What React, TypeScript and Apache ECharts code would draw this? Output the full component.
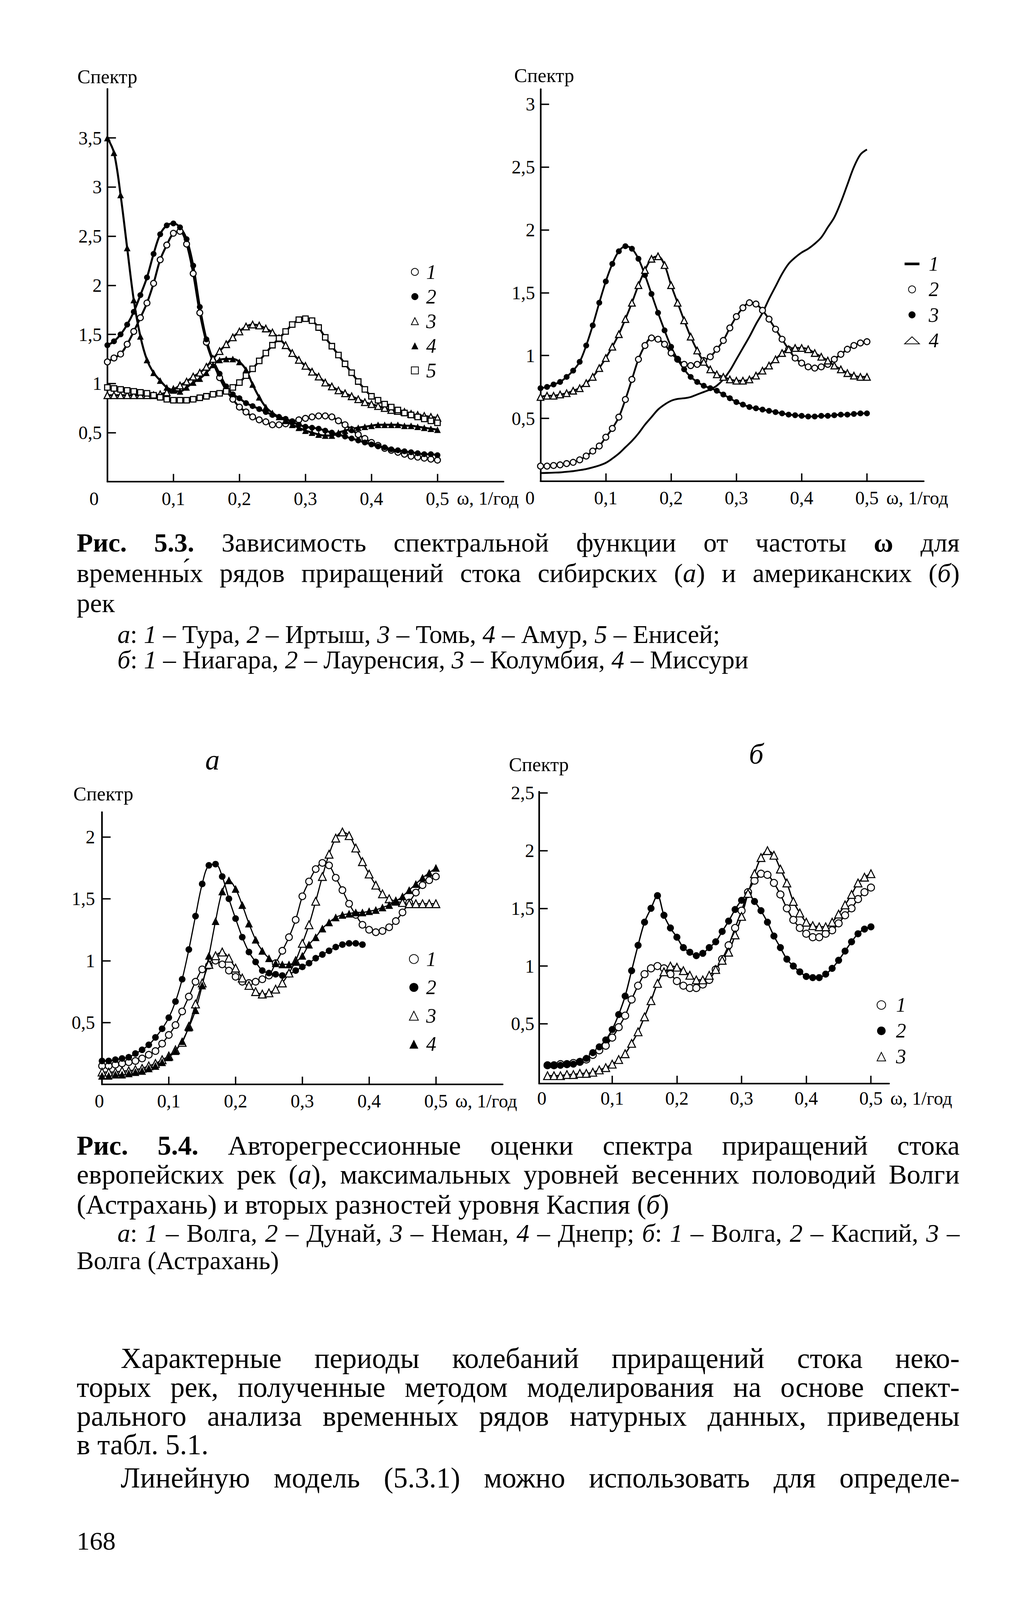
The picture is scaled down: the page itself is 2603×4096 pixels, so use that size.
import React, { useEffect, useRef } from 'react';
import * as echarts from 'echarts';

const W = 2603;
const H = 4096;
const S = W / 3050;
const px = (v: number) => v * S;
const FONT = '"Liberation Serif", "DejaVu Serif", serif';

// ---------- data ----------
const OMEGA = [0, 0.01, 0.02, 0.03, 0.04, 0.05, 0.06, 0.07, 0.08, 0.09, 0.1, 0.11, 0.12, 0.13, 0.14, 0.15, 0.16, 0.17, 0.18, 0.19, 0.2, 0.21, 0.22, 0.23, 0.24, 0.25, 0.26, 0.27, 0.28, 0.29, 0.3, 0.31, 0.32, 0.33, 0.34, 0.35, 0.36, 0.37, 0.38, 0.39, 0.4, 0.41, 0.42, 0.43, 0.44, 0.45, 0.46, 0.47, 0.48, 0.49, 0.5];

const X_LABELS = [0, 0.1, 0.2, 0.3, 0.4, 0.5];
const X_TICKS = [0.1, 0.2, 0.3, 0.4, 0.5];
const Y_TICKS_A = [0.5, 1, 1.5, 2, 2.5, 3, 3.5];
const Y_TICKS_B = [0.5, 1, 1.5, 2, 2.5, 3];
const Y_TICKS_C = [0.5, 1, 1.5, 2];
const Y_TICKS_D = [0.5, 1, 1.5, 2, 2.5];

// Fig 5.3 a (Siberian rivers)
const TURA = [1.22, 1.26, 1.3, 1.4, 1.53, 1.67, 1.82, 2.02, 2.26, 2.41, 2.53, 2.55, 2.42, 2.12, 1.72, 1.42, 1.22, 1.06, 0.93, 0.84, 0.76, 0.71, 0.66, 0.63, 0.61, 0.58, 0.58, 0.59, 0.61, 0.63, 0.645, 0.66, 0.67, 0.67, 0.66, 0.62, 0.58, 0.53, 0.48, 0.44, 0.4, 0.37, 0.34, 0.32, 0.3, 0.28, 0.26, 0.25, 0.24, 0.23, 0.22];
const IRTYSH = [1.39, 1.43, 1.5, 1.6, 1.73, 1.9, 2.08, 2.32, 2.52, 2.61, 2.63, 2.59, 2.47, 2.2, 1.78, 1.45, 1.24, 1.1, 0.97, 0.89, 0.85, 0.8, 0.77, 0.74, 0.71, 0.68, 0.66, 0.64, 0.61, 0.58, 0.56, 0.55, 0.54, 0.52, 0.5, 0.48, 0.46, 0.44, 0.42, 0.4, 0.38, 0.36, 0.35, 0.33, 0.32, 0.31, 0.3, 0.29, 0.28, 0.28, 0.27];
const TOM = [0.88, 0.88, 0.88, 0.88, 0.88, 0.88, 0.88, 0.88, 0.89, 0.91, 0.94, 0.98, 1.02, 1.07, 1.11, 1.17, 1.25, 1.33, 1.4, 1.47, 1.53, 1.58, 1.6, 1.59, 1.56, 1.52, 1.46, 1.39, 1.31, 1.24, 1.18, 1.12, 1.07, 1.01, 0.97, 0.93, 0.9, 0.87, 0.84, 0.81, 0.79, 0.77, 0.75, 0.73, 0.72, 0.71, 0.69, 0.68, 0.67, 0.66, 0.65];
const AMUR = [3.5, 3.35, 2.92, 2.38, 1.85, 1.48, 1.24, 1.11, 1.03, 0.96, 0.93, 0.92, 0.96, 1.01, 1.05, 1.11, 1.19, 1.24, 1.25, 1.25, 1.22, 1.14, 0.99, 0.86, 0.76, 0.7, 0.66, 0.62, 0.58, 0.55, 0.52, 0.5, 0.48, 0.47, 0.47, 0.5, 0.52, 0.54, 0.55, 0.56, 0.57, 0.58, 0.58, 0.58, 0.58, 0.57, 0.57, 0.56, 0.55, 0.54, 0.53];
const ENISEI = [0.96, 0.95, 0.94, 0.93, 0.92, 0.91, 0.9, 0.88, 0.86, 0.84, 0.83, 0.83, 0.83, 0.84, 0.855, 0.87, 0.89, 0.9, 0.92, 0.96, 1.01, 1.08, 1.15, 1.23, 1.31, 1.39, 1.46, 1.53, 1.6, 1.65, 1.66, 1.64, 1.57, 1.47, 1.38, 1.29, 1.2, 1.11, 1.02, 0.94, 0.87, 0.83, 0.79, 0.76, 0.73, 0.7, 0.68, 0.66, 0.64, 0.62, 0.6];

// Fig 5.3 б (American rivers)
const NIAGARA = [0.065, 0.066, 0.068, 0.07, 0.075, 0.08, 0.088, 0.097, 0.11, 0.125, 0.146, 0.18, 0.22, 0.27, 0.32, 0.38, 0.45, 0.51, 0.57, 0.61, 0.64, 0.655, 0.66, 0.67, 0.69, 0.71, 0.73, 0.76, 0.81, 0.88, 0.97, 1.06, 1.15, 1.25, 1.34, 1.45, 1.55, 1.65, 1.73, 1.78, 1.82, 1.85, 1.89, 1.94, 2.02, 2.1, 2.22, 2.36, 2.5, 2.6, 2.64];
const LAURENTIA = [0.12, 0.12, 0.125, 0.13, 0.14, 0.15, 0.17, 0.2, 0.24, 0.28, 0.35, 0.42, 0.51, 0.65, 0.81, 0.97, 1.08, 1.14, 1.13, 1.09, 1.02, 0.97, 0.93, 0.92, 0.93, 0.96, 0.99, 1.05, 1.12, 1.22, 1.31, 1.38, 1.42, 1.41, 1.36, 1.29, 1.21, 1.13, 1.05, 0.98, 0.94, 0.91, 0.9, 0.91, 0.93, 0.97, 1.01, 1.05, 1.08, 1.1, 1.11];
const COLUMBIA = [0.74, 0.75, 0.77, 0.79, 0.83, 0.88, 0.95, 1.08, 1.24, 1.42, 1.59, 1.73, 1.83, 1.87, 1.85, 1.77, 1.64, 1.49, 1.34, 1.2, 1.07, 0.97, 0.89, 0.83, 0.79, 0.76, 0.74, 0.72, 0.69, 0.66, 0.63, 0.61, 0.59, 0.58, 0.57, 0.56, 0.55, 0.54, 0.53, 0.525, 0.52, 0.515, 0.515, 0.52, 0.52, 0.525, 0.53, 0.53, 0.535, 0.54, 0.54];
const MISSOURI = [0.67, 0.68, 0.68, 0.69, 0.7, 0.72, 0.74, 0.78, 0.83, 0.9, 0.98, 1.07, 1.17, 1.29, 1.42, 1.56, 1.68, 1.77, 1.79, 1.72, 1.56, 1.42, 1.28, 1.15, 1.04, 0.95, 0.89, 0.85, 0.83, 0.81, 0.8, 0.8, 0.81, 0.84, 0.88, 0.92, 0.97, 1.02, 1.05, 1.06, 1.06, 1.05, 1.02, 0.99, 0.96, 0.92, 0.89, 0.86, 0.84, 0.83, 0.83];

// Fig 5.4 а (European rivers)
const VOLGA_A = [0.15, 0.15, 0.16, 0.17, 0.18, 0.19, 0.21, 0.24, 0.27, 0.33, 0.4, 0.48, 0.59, 0.71, 0.83, 0.93, 0.96, 1.0, 0.97, 0.92, 0.87, 0.83, 0.82, 0.83, 0.85, 0.88, 0.98, 1.08, 1.19, 1.33, 1.52, 1.64, 1.74, 1.79, 1.77, 1.67, 1.57, 1.46, 1.37, 1.29, 1.25, 1.23, 1.24, 1.27, 1.32, 1.39, 1.47, 1.55, 1.61, 1.65, 1.68];
const DUNAI = [0.19, 0.19, 0.2, 0.21, 0.22, 0.25, 0.28, 0.32, 0.38, 0.45, 0.54, 0.67, 0.85, 1.09, 1.36, 1.62, 1.77, 1.78, 1.68, 1.5, 1.34, 1.19, 1.07, 0.99, 0.92, 0.9, 0.89, 0.88, 0.89, 0.92, 0.95, 0.98, 1.02, 1.05, 1.08, 1.11, 1.13, 1.14, 1.14, 1.13];
const NEMAN = [0.1, 0.1, 0.1, 0.11, 0.11, 0.12, 0.13, 0.15, 0.17, 0.2, 0.23, 0.28, 0.34, 0.47, 0.65, 0.82, 0.97, 1.04, 1.07, 1.02, 0.94, 0.86, 0.8, 0.75, 0.73, 0.74, 0.77, 0.82, 0.9, 1.0, 1.14, 1.29, 1.48, 1.68, 1.86, 1.99, 2.04, 2.01, 1.91, 1.8, 1.7, 1.61, 1.54, 1.5, 1.48, 1.47, 1.46, 1.46, 1.46, 1.46, 1.46];
const DNEPR = [0.07, 0.07, 0.08, 0.08, 0.09, 0.1, 0.11, 0.13, 0.15, 0.18, 0.22, 0.27, 0.35, 0.46, 0.6, 0.8, 1.04, 1.32, 1.56, 1.65, 1.58, 1.45, 1.3, 1.17, 1.08, 1.02, 0.98, 0.97, 0.97, 0.99, 1.04, 1.13, 1.19, 1.26, 1.31, 1.35, 1.37, 1.38, 1.39, 1.39, 1.4, 1.41, 1.43, 1.45, 1.48, 1.52, 1.57, 1.62, 1.67, 1.71, 1.75];

// Fig 5.4 б
const VOLGA_B = [0.14, 0.14, 0.15, 0.15, 0.16, 0.17, 0.19, 0.23, 0.27, 0.31, 0.38, 0.47, 0.57, 0.71, 0.83, 0.93, 0.98, 1.0, 0.98, 0.93, 0.87, 0.83, 0.81, 0.81, 0.84, 0.88, 0.97, 1.06, 1.18, 1.33, 1.48, 1.64, 1.74, 1.8, 1.79, 1.72, 1.62, 1.5, 1.4, 1.33, 1.28, 1.25, 1.25, 1.28, 1.31, 1.37, 1.44, 1.5, 1.58, 1.64, 1.68];
const CASPIAN = [0.14, 0.14, 0.14, 0.15, 0.15, 0.17, 0.2, 0.25, 0.3, 0.36, 0.45, 0.58, 0.74, 0.96, 1.18, 1.38, 1.5, 1.61, 1.44, 1.33, 1.25, 1.16, 1.12, 1.09, 1.11, 1.16, 1.21, 1.3, 1.39, 1.49, 1.57, 1.62, 1.56, 1.48, 1.38, 1.26, 1.16, 1.06, 1.0, 0.95, 0.91, 0.9, 0.9, 0.93, 0.98, 1.05, 1.13, 1.21, 1.28, 1.32, 1.34];
const VOLGA_ASTR = [0.05, 0.05, 0.05, 0.06, 0.06, 0.07, 0.07, 0.08, 0.1, 0.12, 0.15, 0.19, 0.24, 0.33, 0.43, 0.56, 0.7, 0.85, 0.95, 1.0, 0.99, 0.96, 0.92, 0.88, 0.88, 0.92, 0.97, 1.05, 1.12, 1.27, 1.43, 1.63, 1.8, 1.94, 2.0, 1.96, 1.84, 1.72, 1.56, 1.46, 1.38, 1.35, 1.34, 1.34, 1.38, 1.45, 1.53, 1.62, 1.72, 1.77, 1.8];

const LEGEND_NUM: Record<string, string> = {
  'Тура': '1', 'Иртыш': '2', 'Томь': '3', 'Амур': '4', 'Енисей': '5',
  'Ниагара': '1', 'Лауренсия': '2', 'Колумбия': '3', 'Миссури': '4',
  'Волга': '1', 'Дунай': '2', 'Неман': '3', 'Днепр': '4',
  'Волга (б)': '1', 'Каспий': '2', 'Волга (Астрахань)': '3',
};

// ---------- texts ----------
const AXIS_TITLE = 'Спектр';
const AXIS_NAME = 'ω, 1/год';
const PANEL_A = 'а';
const PANEL_B = 'б';
const CAP53 = [
  '{b|Рис.} {b|5.3.} Зависимость спектральной функции от частоты {b|ω} для',
  'временны\u0301х рядов приращений стока сибирских ({i|а}) и американских ({i|б})',
  'рек',
  '{i|а}: {i|1} – Тура, {i|2} – Иртыш, {i|3} – Томь, {i|4} – Амур, {i|5} – Енисей;',
  '{i|б}: {i|1} – Ниагара, {i|2} – Лауренсия, {i|3} – Колумбия, {i|4} – Миссури',
];
const CAP54 = [
  '{b|Рис.} {b|5.4.} Авторегрессионные оценки спектра приращений стока',
  'европейских рек ({i|а}), максимальных уровней весенних половодий Волги',
  '(Астрахань) и вторых разностей уровня Каспия ({i|б})',
  '{i|а}: {i|1} – Волга, {i|2} – Дунай, {i|3} – Неман, {i|4} – Днепр; {i|б}: {i|1} – Волга, {i|2} – Каспий, {i|3} –',
  'Волга (Астрахань)',
];
const BODY = [
  'Характерные периоды колебаний приращений стока неко-',
  'торых рек, полученные методом моделирования на основе спект-',
  'рального анализа временны\u0301х рядов натурных данных, приведены',
  'в табл. 5.1.',
  'Линейную модель (5.3.1) можно использовать для определе-',
];
const PAGE_NO = '168';

// ---------- layout (reference pixel coordinates) ----------
const G = [
  { x0: 322, xu: 1980, xmin: 0, xmax: 0.6, y0: 1445, yu: 294.6, ymin: 0, ymax: 4, lm: 19, ym: 14, zp: 68 },
  { x0: 1621, xu: 1958, xmin: 0, xmax: 0.587, y0: 1443.4, yu: 376.9, ymin: 0, ymax: 3.12, lm: 19, ym: 14, zp: 54 },
  { x0: 306, xu: 2002.5, xmin: 0, xmax: 0.6, y0: 3253, yu: 371.3, ymin: 0, ymax: 2.2, lm: 18, ym: 18, zp: 14 },
  { x0: 1642, xu: 1940, xmin: -0.013, xmax: 0.528, y0: 3244, yu: 346.2, ymin: -0.018, ymax: 2.51, lm: 14, ym: 12, zp: 29 },
];
const Y_TICKS = [Y_TICKS_A, Y_TICKS_B, Y_TICKS_C, Y_TICKS_D];
const TITLE_POS = [[322, 230], [1632, 226], [310, 2381], [1616, 2293]];
const NAME_Y = [1495, 1493, 3302, 3294];
const LEG = [
  { cx: 1243, tx: 1277, cy: 811, pitch: 64.5, iw: 18, ih: 18 },
  { cx: 2734, tx: 2784, cy: 787, pitch: 67, iw: 38, ih: 18 },
  { cx: 1240, tx: 1277, cy: 2872, pitch: 75.7, iw: 23, ih: 23 },
  { cx: 2642, tx: 2686, cy: 3010, pitch: 68, iw: 22, ih: 22 },
];
const STY = [
  { lw: 5.2, bw: 2.8, circ: 15, tri: 17, sq: 14 },
  { lw: 4.6, bw: 2.8, circ: 15, tri: 17, sq: 14 },
  { lw: 3, bw: 2.6, circ: 17, tri: 20, sq: 14 },
  { lw: 3.4, bw: 2.6, circ: 18, tri: 20, sq: 14 },
];
// [x0, x1, baseline, fontSize, justify]
const CAP53_L = [[230, 2878, 1655, 80, 1], [230, 2878, 1746, 80, 1], [230, 0, 1836, 80, 0], [352, 0, 1928, 77, 0], [352, 0, 2005, 77, 0]];
const CAP54_L = [[230, 2878, 3464, 82, 1], [230, 2878, 3551, 82, 1], [230, 0, 3641, 82, 0], [352, 2878, 3725, 77, 1], [230, 0, 3806, 77, 0]];
const BODY_L = [[362, 2878, 4104, 86, 1], [230, 2878, 4190, 86, 1], [230, 2878, 4277, 86, 1], [230, 0, 4363, 86, 0], [362, 2878, 4462, 86, 1]];
const PAGE_L = [230, 4648, 78];

const TICK_FS = 48;
const AXW = 4.2;

function fmt(v: number) {
  return String(v).replace('.', ',');
}

function buildOption() {
  const cv = document.createElement('canvas');
  const ctx = cv.getContext('2d') as CanvasRenderingContext2D;
  const measure = (s: string, size: number) => {
    const re = /\{(\w)\|([^}]*)\}|([^{]+)/g;
    let m: RegExpExecArray | null;
    let w = 0;
    while ((m = re.exec(s)) !== null) {
      const st = m[1];
      const t = st ? m[2] : m[3];
      ctx.font = `${st === 'i' ? 'italic ' : ''}${st === 'b' ? 'bold ' : ''}${size}px "Liberation Serif"`;
      w += ctx.measureText(t).width;
    }
    return w;
  };
  const rich = (size: number, lh: number) => ({
    i: { fontStyle: 'italic', fontFamily: FONT, fontSize: size, fill: '#000', lineHeight: lh },
    b: { fontWeight: 'bold', fontFamily: FONT, fontSize: size, fill: '#000', lineHeight: lh },
  });
  const txt = (x: number, y: number, text: string, size: number, extra: any = {}, align = 'left') => {
    const lh = Math.round(size * 0.9);
    return {
      type: 'text', x, y, silent: true,
      style: { text, fill: '#000', fontFamily: FONT, fontSize: size, lineHeight: lh, align, verticalAlign: 'middle', rich: rich(size, lh), ...(extra.style || {}) },
      ...(extra.el || {}),
    };
  };
  const lines = (texts: string[], lay: number[][]) => {
    const out: any[] = [];
    texts.forEach((t, k) => {
      const [fx0, fx1, fb, ff, just] = lay[k];
      const size = px(ff);
      const x0 = px(fx0);
      const yMid = px(fb) - 0.3375 * size;
      if (!just) {
        out.push(txt(x0, yMid, t, size));
        return;
      }
      const words = t.split(' ');
      const ws = words.map((w) => measure(w, size));
      const sum = ws.reduce((a, b) => a + b, 0);
      const target = px(fx1) - x0;
      const n = words.length;
      const minGap = 0.22 * size;
      let scale = 1;
      let gap = n > 1 ? (target - sum) / (n - 1) : 0;
      if (sum + minGap * (n - 1) > target) {
        scale = target / (sum + minGap * (n - 1));
        gap = minGap * scale;
      }
      let cx = x0;
      words.forEach((w, j) => {
        out.push(txt(cx, yMid, w, size, { el: { scaleX: scale } }));
        cx += ws[j] * scale + gap;
      });
    });
    return out;
  };

  const labelBase = { color: '#000', fontFamily: FONT, fontSize: TICK_FS };
  const grids = G.map((g) => ({
    left: px(g.x0 + g.xmin * g.xu),
    top: px(g.y0 - g.ymax * g.yu),
    width: px((g.xmax - g.xmin) * g.xu),
    height: px((g.ymax - g.ymin) * g.yu),
    containLabel: false,
  }));
  const xAxes = G.map((g, i) => ({
    type: 'value', gridIndex: i, min: g.xmin, max: g.xmax,
    axisLine: { show: true, onZero: false, lineStyle: { color: '#000', width: AXW } },
    axisTick: { show: true, inside: true, length: 20, lineStyle: { color: '#000', width: 3.5 }, customValues: X_TICKS },
    axisLabel: {
      ...labelBase, margin: g.lm, customValues: X_LABELS,
      formatter: (v: number) => (v === 0 ? '{z|0}' : fmt(v)),
      rich: { z: { ...labelBase, padding: [0, g.zp, 0, 0] } },
    },
    splitLine: { show: false },
  }));
  const yAxes = G.map((g, i) => ({
    type: 'value', gridIndex: i, min: g.ymin, max: g.ymax,
    axisLine: { show: true, onZero: false, lineStyle: { color: '#000', width: AXW } },
    axisTick: { show: true, inside: true, length: 22, lineStyle: { color: '#000', width: 3.5 }, customValues: Y_TICKS[i] },
    axisLabel: { ...labelBase, margin: g.ym, customValues: Y_TICKS[i], formatter: (v: number) => fmt(v) },
    splitLine: { show: false },
  }));

  const ser = (name: string, ys: number[], gi: number, kind: string) => {
    const st = STY[gi];
    const open = kind[0] === 'o';
    const shape = kind[1];
    const symbol = kind === 'ln' ? 'none' : shape === 'c' ? 'circle' : shape === 't' ? 'triangle' : 'rect';
    const size = shape === 't' ? st.tri : shape === 's' ? st.sq : st.circ;
    return {
      type: 'line', name, xAxisIndex: gi, yAxisIndex: gi,
      data: ys.map((y, k) => [OMEGA[k], y]),
      smooth: 0.35,
      showSymbol: kind !== 'ln', showAllSymbol: true, symbol, symbolSize: size,
      lineStyle: { color: '#000', width: st.lw },
      itemStyle: open ? { color: '#fff', borderColor: '#000', borderWidth: st.bw } : { color: '#000', borderColor: '#000', borderWidth: 0 },
      emphasis: { disabled: true }, silent: true, clip: false,
    };
  };
  const groups = [
    [['Тура', TURA, 'oc'], ['Иртыш', IRTYSH, 'fc'], ['Томь', TOM, 'ot'], ['Амур', AMUR, 'ft'], ['Енисей', ENISEI, 'os']],
    [['Ниагара', NIAGARA, 'ln'], ['Лауренсия', LAURENTIA, 'oc'], ['Колумбия', COLUMBIA, 'fc'], ['Миссури', MISSOURI, 'ot']],
    [['Волга', VOLGA_A, 'oc'], ['Дунай', DUNAI, 'fc'], ['Неман', NEMAN, 'ot'], ['Днепр', DNEPR, 'ft']],
    [['Волга (б)', VOLGA_B, 'oc'], ['Каспий', CASPIAN, 'fc'], ['Волга (Астрахань)', VOLGA_ASTR, 'ot']],
  ] as [string, number[], string][][];
  const series: any[] = [];
  groups.forEach((grp, gi) => grp.forEach(([n, ys, k]) => series.push(ser(n, ys, gi, k))));

  const iconOf = (k: string) => (k === 'ln' ? 'path://M0,0H8V1.4H0Z' : k[1] === 'c' ? 'circle' : k[1] === 't' ? 'triangle' : 'rect');
  const LEG_FS = 52;
  const legends = groups.map((grp, gi) => {
    const L = LEG[gi];
    const rowH = 44;
    const pad = px(L.tx) - (px(L.cx) + L.iw / 2 + 5);
    return {
      show: true, orient: 'vertical', selectedMode: false, padding: 0,
      left: px(L.cx) - L.iw / 2, top: px(L.cy) - rowH / 2,
      itemWidth: L.iw, itemHeight: L.ih, itemGap: px(L.pitch) - rowH,
      symbolKeepAspect: true,
      data: grp.map(([n, , k]) => ({ name: n, icon: iconOf(k) })),
      formatter: (name: string) => `{p|${LEGEND_NUM[name]}}`,
      textStyle: {
        color: '#000', fontFamily: FONT, fontStyle: 'italic', fontSize: LEG_FS, lineHeight: rowH,
        rich: { p: { color: '#000', fontFamily: FONT, fontStyle: 'italic', fontSize: LEG_FS, lineHeight: rowH, padding: [0, 0, 0, pad] } },
      },
    };
  });

  const elements: any[] = [];
  TITLE_POS.forEach(([x, y]) => elements.push(txt(px(x), px(y), AXIS_TITLE, 50, {}, 'center')));
  elements.push(txt(px(637), px(2279), `{i|${PANEL_A}}`, 74, {}, 'center'));
  elements.push(txt(px(2268), px(2262), `{i|${PANEL_B}}`, 74, {}, 'center'));
  G.forEach((g, i) => elements.push(txt(px(g.x0 + 0.5 * g.xu + 58), px(NAME_Y[i]), AXIS_NAME, TICK_FS)));
  elements.push(...lines(CAP53, CAP53_L));
  elements.push(...lines(CAP54, CAP54_L));
  elements.push(...lines(BODY, BODY_L));
  elements.push(txt(px(PAGE_L[0]), px(PAGE_L[1]) - 0.3375 * px(PAGE_L[2]), PAGE_NO, px(PAGE_L[2])));

  return {
    animation: false,
    backgroundColor: '#fff',
    grid: grids,
    xAxis: xAxes,
    yAxis: yAxes,
    legend: legends,
    series,
    graphic: { elements },
  };
}

export default function App() {
  const ref = useRef<HTMLDivElement>(null);
  useEffect(() => {
    const el = ref.current as HTMLDivElement;
    const chart = echarts.init(el, null, { renderer: 'svg' });
    chart.setOption(buildOption() as any);
    return () => chart.dispose();
  }, []);
  return <div ref={ref} style={{ position: 'absolute', left: 0, top: 0, width: W, height: H, background: '#fff' }} />;
}
